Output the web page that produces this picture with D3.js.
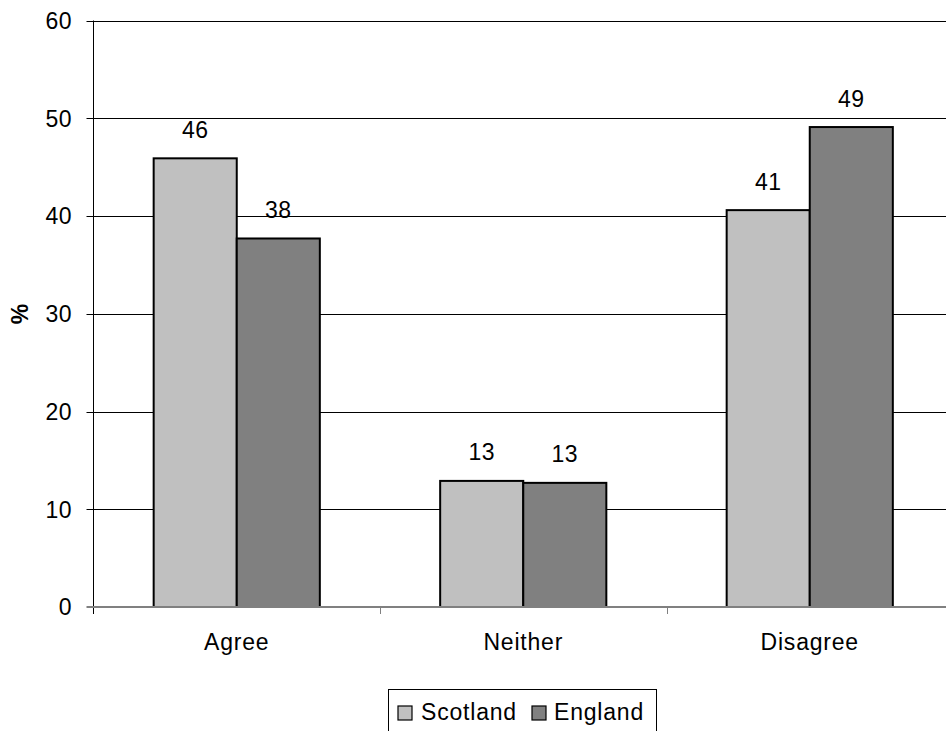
<!DOCTYPE html>
<html>
<head>
<meta charset="utf-8">
<script src="https://cdn.jsdelivr.net/npm/d3@7"></script>
<style>
  html, body { margin: 0; padding: 0; background: #fff; }
  svg { display: block; }
  text { font-family: "Liberation Sans", Arial, sans-serif; fill: #000; }
</style>
</head>
<body>
<svg id="chart" width="946" height="731"></svg>
<script>
// Survey responses (%) by country
const categories = ["Agree", "Neither", "Disagree"];
const seriesNames = ["Scotland", "England"];
const scotland = [45.9, 12.9, 40.6];
const england = [37.7, 12.7, 49.1];
const yTicks = [0, 10, 20, 30, 40, 50, 60];
const seriesColors = ["#c0c0c0", "#808080"];

const svg = d3.select("#chart");
const W = 946, H = 731;
const plot = { left: 93.5, right: 953, top: 20.5, bottom: 607 };

const x0 = d3.scaleBand().domain(categories).range([plot.left, plot.right]).padding(0);
const bw = x0.bandwidth();
const x1 = d3.scaleBand().domain(seriesNames).range([bw * 0.21, bw * 0.79]).padding(0);
const y = d3.scaleLinear().domain([0, 60]).range([plot.bottom, plot.top]);

const FS = 23;

// horizontal gridlines
svg.append("g")
  .selectAll("line")
  .data(yTicks.filter(d => d > 0))
  .join("line")
  .attr("x1", plot.left - 7).attr("x2", W)
  .attr("y1", d => Math.round(y(d)) + 0.5).attr("y2", d => Math.round(y(d)) + 0.5)
  .attr("stroke", "#000").attr("stroke-width", 1);

// y axis labels
svg.append("g")
  .selectAll("text")
  .data(yTicks)
  .join("text")
  .attr("x", 72).attr("y", d => y(d))
  .attr("dy", "0.36em")
  .attr("text-anchor", "end")
  .attr("font-size", FS)
  .style("letter-spacing", "0.5px")
  .text(d => d);

// y axis title
svg.append("text")
  .attr("transform", `translate(${28},${314}) rotate(-90)`)
  .attr("text-anchor", "middle")
  .attr("font-size", FS)
  .attr("font-weight", "bold")
  .text("%");

// bars
const rows = categories.map((c, i) => ({ cat: c, vals: [scotland[i], england[i]] }));
const groups = svg.append("g")
  .selectAll("g")
  .data(rows)
  .join("g")
  .attr("transform", d => `translate(${x0(d.cat)},0)`);

groups.selectAll("rect")
  .data(d => d.vals.map((v, j) => ({ name: seriesNames[j], v, j })))
  .join("rect")
  .attr("x", d => x1(d.name))
  .attr("y", d => y(d.v))
  .attr("width", x1.bandwidth())
  .attr("height", d => y(0) - y(d.v))
  .attr("fill", d => seriesColors[d.j])
  .attr("stroke", "#000")
  .attr("stroke-width", 2);

// value labels
groups.selectAll("text")
  .data(d => d.vals.map((v, j) => ({ name: seriesNames[j], v, j })))
  .join("text")
  .attr("x", d => x1(d.name) + x1.bandwidth() / 2)
  .attr("y", d => y(d.v) - 20.5)
  .attr("text-anchor", "middle")
  .attr("font-size", FS)
  .style("letter-spacing", "0.5px")
  .text(d => Math.round(d.v));

// vertical axis line
svg.append("line")
  .attr("x1", plot.left).attr("x2", plot.left)
  .attr("y1", plot.top).attr("y2", plot.bottom + 7)
  .attr("stroke", "#000").attr("stroke-width", 1);

// baseline and category ticks
svg.append("line")
  .attr("x1", plot.left - 7).attr("x2", W)
  .attr("y1", plot.bottom).attr("y2", plot.bottom)
  .attr("stroke", "#808080").attr("stroke-width", 2);

svg.append("g")
  .selectAll("line")
  .data(categories.slice(1))
  .join("line")
  .attr("x1", d => Math.round(x0(d)) + 0.5).attr("x2", d => Math.round(x0(d)) + 0.5)
  .attr("y1", plot.bottom).attr("y2", plot.bottom + 7)
  .attr("stroke", "#808080").attr("stroke-width", 1);

// category labels
svg.append("g")
  .selectAll("text")
  .data(categories)
  .join("text")
  .attr("x", d => x0(d) + bw / 2)
  .attr("y", 650)
  .attr("text-anchor", "middle")
  .attr("font-size", FS)
  .style("letter-spacing", "0.8px")
  .text(d => d);

// legend
const legend = svg.append("g");
legend.append("rect")
  .attr("x", 388.5).attr("y", 689.5)
  .attr("width", 268).attr("height", 60)
  .attr("fill", "#fff").attr("stroke", "#000").attr("stroke-width", 1);

const legendItems = [
  { name: seriesNames[0], color: seriesColors[0], sx: 398, tx: 421 },
  { name: seriesNames[1], color: seriesColors[1], sx: 532, tx: 554 }
];
legend.selectAll("rect.sw")
  .data(legendItems)
  .join("rect")
  .attr("class", "sw")
  .attr("x", d => d.sx).attr("y", 706)
  .attr("width", 14).attr("height", 14)
  .attr("fill", d => d.color)
  .attr("stroke", "#000").attr("stroke-width", 1.2);
legend.selectAll("text")
  .data(legendItems)
  .join("text")
  .attr("x", d => d.tx).attr("y", 720)
  .attr("font-size", FS)
  .style("letter-spacing", "0.8px")
  .text(d => d.name);
</script>
</body>
</html>
